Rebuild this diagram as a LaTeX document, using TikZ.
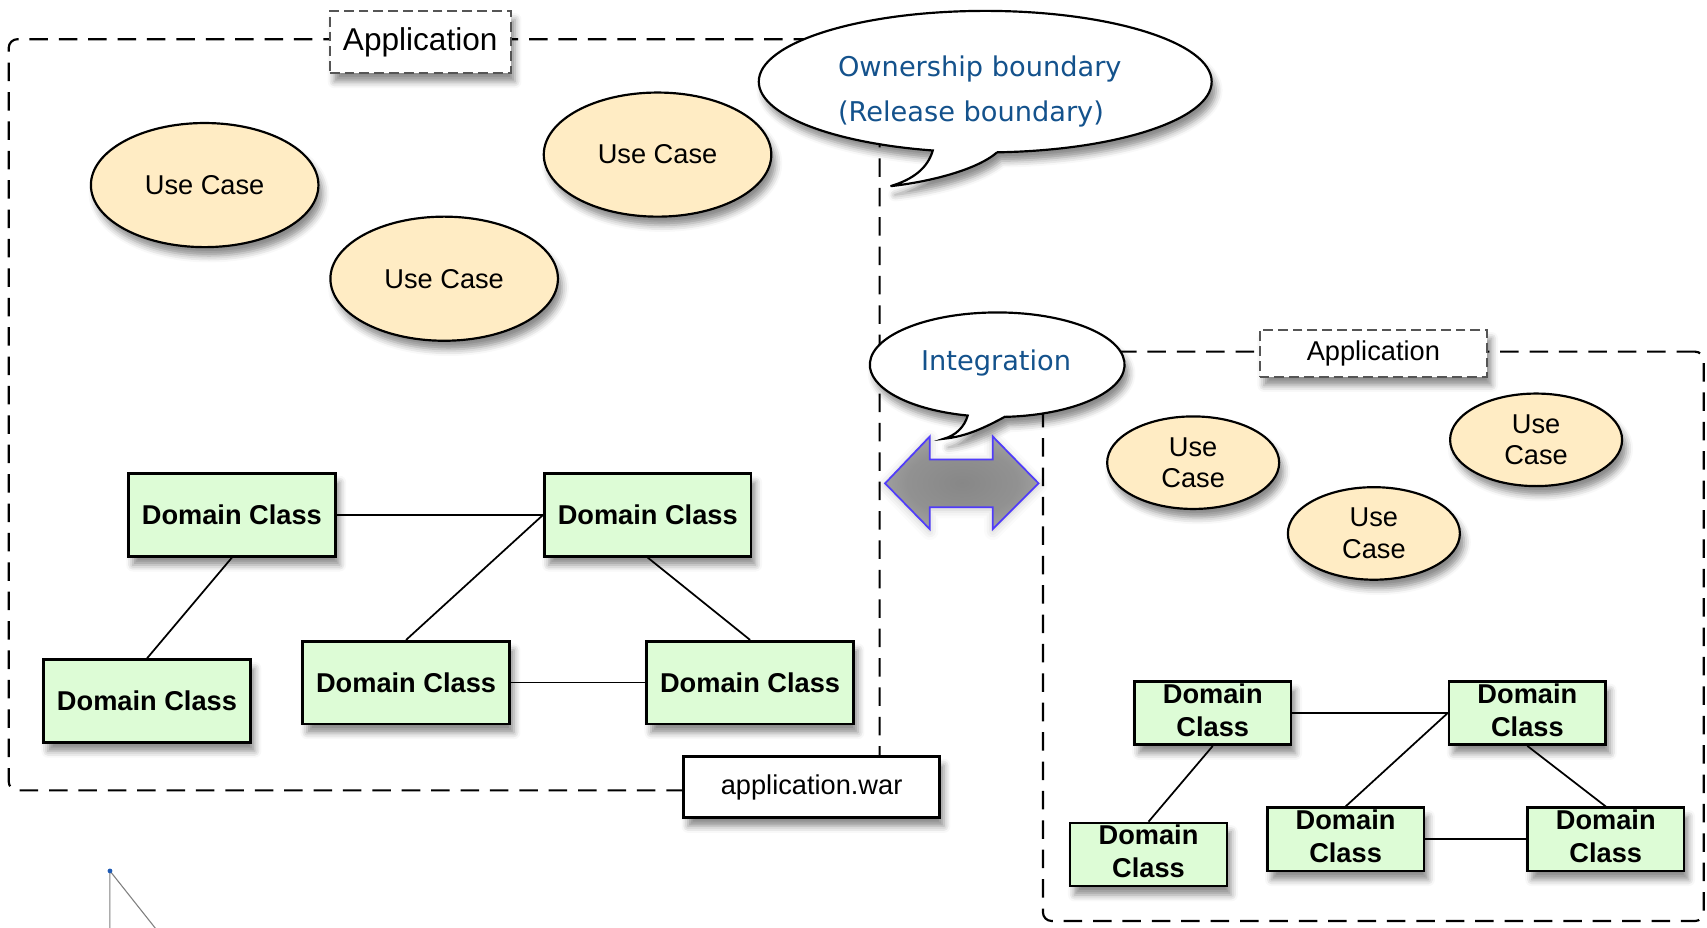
\documentclass[tikz,border=0pt]{standalone}
\usepackage{fontspec}
\setmainfont{Liberation Sans}
\newfontfamily\bluefont{DejaVu Sans}
\usetikzlibrary{shapes.geometric,shadows.blur}
\definecolor{ucfill}{RGB}{255,236,196}
\definecolor{dcfill}{RGB}{221,252,214}
\definecolor{bluetext}{RGB}{20,82,140}
\definecolor{arrowline}{RGB}{80,60,250}
\definecolor{dotblue}{RGB}{30,90,180}
\definecolor{labelgray}{RGB}{85,85,85}
\pgfdeclareradialshading{arrowshade}{\pgfpoint{0bp}{0bp}}{color(0bp)=(black!47); color(18bp)=(black!43); color(32bp)=(black!33); color(44bp)=(black!20); color(50bp)=(black!12)}
\begin{document}
\begin{tikzpicture}[x=0.5pt,y=-0.5pt,
  shadowed/.style={blur shadow={shadow xshift=2pt,shadow yshift=-4pt,shadow blur radius=3pt,shadow opacity=45}},
  container/.style={rectangle, draw=black, dash pattern=on 8.5pt off 5pt, line width=1pt, rounded corners=4pt, inner sep=0pt},
  usecase/.style={ellipse, draw, line width=1pt, fill=ucfill, shadowed, inner sep=0pt, align=center, font=\fontsize{12.5}{14.5}\selectfont},
  bigcase/.style={usecase, minimum width=104.5pt, minimum height=57pt},
  smallcase/.style={usecase, minimum width=79pt, minimum height=42.5pt},
  dclass/.style={rectangle, draw, line width=1.2pt, fill=dcfill, shadowed, inner sep=0pt, align=center, font=\fontsize{12.5}{15}\selectfont\bfseries},
  bigdomain/.style={dclass, minimum width=95pt, minimum height=38pt},
  smalldomain/.style={dclass, minimum width=72pt, minimum height=29pt},
  conn/.style={draw, line width=0.8pt},
  labelbox/.style={rectangle, draw=labelgray, fill=white, dash pattern=on 4.5pt off 2.3pt, line width=0.9pt, shadowed, inner sep=0pt},
  bubble/.style={draw, fill=white, line width=1pt, shadowed},
  bubbletext/.style={text=bluetext, align=left, font=\bluefont\fontsize{12.5}{21}\selectfont}
]
\useasboundingbox (0,0) rectangle (1568,852);

% containers
\node[container, minimum width=400pt, minimum height=345pt] (appL) at (408,381) {};
\node[container, minimum width=303.5pt, minimum height=261.5pt] (appR) at (1261.5,584.5) {};

% left use cases
\node[bigcase] (uc1) at (188,170) {Use Case};
\node[bigcase] (uc2) at (604,142) {Use Case};
\node[bigcase] (uc3) at (408,256) {Use Case};

% left domain classes
\node[bigdomain] (dc1) at (213,473) {Domain Class};
\node[bigdomain] (dc2) at (595,473) {Domain Class};
\node[bigdomain] (dc3) at (135,644) {Domain Class};
\node[bigdomain] (dc4) at (373,627) {Domain Class};
\node[bigdomain] (dc5) at (689,627) {Domain Class};
\draw[conn] (dc1.east) -- (dc2.west);
\draw[conn] (dc1.south) -- (dc3.north);
\draw[conn] (dc4.north) -- (dc2.west);
\draw[conn] (dc2.south) -- (dc5.north);
\draw[conn] (dc4.east) -- (dc5.west);

% right use cases
\node[smallcase] (ruc1) at (1096,425) {Use\\Case};
\node[smallcase] (ruc2) at (1411,404) {Use\\Case};
\node[smallcase] (ruc3) at (1262,490) {Use\\Case};

% right domain classes
\node[smalldomain] (rdc1) at (1114,655) {Domain\\Class\rule[-3pt]{0pt}{3pt}};
\node[smalldomain] (rdc2) at (1403,655) {Domain\\Class\rule[-3pt]{0pt}{3pt}};
\node[smalldomain] (rdc3) at (1055,785) {Domain\\Class\rule[-3pt]{0pt}{3pt}};
\node[smalldomain] (rdc4) at (1236,771) {Domain\\Class\rule[-3pt]{0pt}{3pt}};
\node[smalldomain] (rdc5) at (1475,771) {Domain\\Class\rule[-3pt]{0pt}{3pt}};
\draw[conn] (rdc1.east) -- (rdc2.west);
\draw[conn] (rdc1.south) -- (rdc3.north);
\draw[conn] (rdc4.north) -- (rdc2.west);
\draw[conn] (rdc2.south) -- (rdc5.north);
\draw[conn] (rdc4.east) -- (rdc5.west);

% labels
\node[labelbox, minimum width=83pt, minimum height=28.5pt, font=\fontsize{14.5}{17}\selectfont] (labL) at (386,38.5) {\raisebox{-1pt}{Application}};
\node[labelbox, minimum width=104.5pt, minimum height=21.5pt, font=\fontsize{12.5}{15}\selectfont] (labR) at (1261.5,324.5) {Application};
\node[rectangle, draw, fill=white, line width=1.2pt, shadowed, inner sep=0pt, minimum width=117.5pt, minimum height=28pt, font=\fontsize{12.5}{15}\selectfont] (war) at (745.5,723) {application.war};

% ownership bubble
\path[bubble] (905,75) ++(87:208 and 65) arc[start angle=87, end angle=-256.6, x radius=208, y radius=65]
  .. controls (852,155) and (838,165) .. (818,171)
  .. controls (846,168) and (895,158) .. (915.9,139.9) -- cycle;
\node[bubbletext] (own) at (900,84) {Ownership boundary\\(Release boundary)};

% integration bubble
\path[bubble] (916,335) ++(86.6:117 and 48) arc[start angle=86.6, end angle=-256.6, x radius=117, y radius=48]
  .. controls (886,392) and (878,400) .. (867,403)
  .. controls (888,401) and (906,392) .. (922.9,382.9) -- cycle;
\node[bubbletext] (integ) at (915,333) {Integration};

% double arrow
\path[draw=arrowline, line width=0.8pt, shading=arrowshade,
      blur shadow={shadow xshift=0pt, shadow yshift=-1pt, shadow blur radius=4pt, shadow opacity=22}]
  (813,444) -- (854,401) -- (854,422) -- (912,422) -- (912,401) -- (954,444)
  -- (912,486) -- (912,466) -- (854,466) -- (854,486) -- cycle;

% partial element at bottom left
\coordinate (p0) at (101,800);
\coordinate (p1) at (101,853);
\coordinate (p2) at (143,853);
\draw[gray, line width=0.5pt] (p1) -- (p0) -- (p2);
\fill[dotblue] (p0) circle (2.2);
\end{tikzpicture}
\end{document}
